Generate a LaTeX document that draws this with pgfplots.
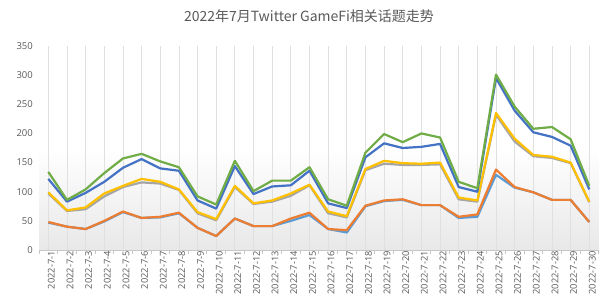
\documentclass[border=0pt]{standalone}
\usepackage{pgfplots}
\pgfplotsset{compat=1.18}
\usepackage{fontspec}
\setmainfont{Open Sans}
\newfontfamily\cjk{Noto Sans CJK SC}
\definecolor{cblue}{HTML}{4472C4}
\definecolor{corange}{HTML}{ED7D31}
\definecolor{cgray}{HTML}{A5A5A5}
\definecolor{cyellow}{HTML}{FFC000}
\definecolor{clblue}{HTML}{5B9BD5}
\definecolor{cgreen}{HTML}{70AD47}
\definecolor{txt}{HTML}{595959}
\pgfplotstableread{
x green blue gray yellow orange lblue
0 134 122 97 99 48 47
1 86 83 67 68 40 40
2 104 98 70 73 36 36
3 132 117 92 97 50 49
4 157 141 108 110 66 65
5 165 156 116 122 55 55
6 152 140 114 117 57 56
7 142 136 103 104 64 63
8 92 85 63 65 38 38
9 78 71 51 53 24 24
10 153 144 108 110 54 54
11 101 96 79 80 41 41
12 119 109 83 85 41 41
13 119 111 93 97 54 50
14 142 136 111 112 64 60
15 87 80 63 66 36 36
16 76 72 56 58 34 30
17 167 159 137 139 76 75
18 199 183 148 153 85 84
19 185 175 146 149 87 86
20 200 177 146 148 77 77
21 193 182 147 150 77 77
22 117 108 87 90 57 55
23 106 100 83 85 61 57
24 301 295 232 235 138 129
25 246 239 186 191 108 107
26 208 202 161 163 99 99
27 211 194 158 160 86 86
28 190 179 149 150 86 86
29 110 104 82 83 48 48
}\data
\begin{document}
\begin{tikzpicture}
\path[use as bounding box] (0,0) rectangle (614pt,293pt);
\clip (0,0) rectangle (614pt,293pt);
\node[text=txt, font=\cjk\fontsize{14}{16}\selectfont] at (309pt,277pt) {2022年7月Twitter GameFi相关话题走势};
\begin{axis}[
  at={(39pt,43pt)}, anchor=south west,
  scale only axis, width=559.6pt, height=204pt,
  xmin=-0.5, xmax=29.5, ymin=0, ymax=350,
  axis background/.style={top color=white, bottom color=black!9, middle color=white, shading angle=0},
  axis x line*=bottom, axis y line*=left,
  x axis line style={draw=black!22, line width=0.8pt},
  y axis line style={draw=none},
  xtick={0,...,29},
  xticklabels={2022-7-1,2022-7-2,2022-7-3,2022-7-4,2022-7-5,2022-7-6,2022-7-7,2022-7-8,2022-7-9,2022-7-10,2022-7-11,2022-7-12,2022-7-13,2022-7-14,2022-7-15,2022-7-16,2022-7-17,2022-7-18,2022-7-19,2022-7-20,2022-7-21,2022-7-22,2022-7-23,2022-7-24,2022-7-25,2022-7-26,2022-7-27,2022-7-28,2022-7-29,2022-7-30},
  minor xtick={-0.5,0.5,...,29.5},
  major tick length=0pt, minor tick length=4pt, tick align=outside,
  minor tick style={draw=black!22, line width=0.8pt},
  xmajorgrids, major x grid style={draw=black!12, line width=0.8pt},
  xticklabel style={rotate=90, anchor=east, font=\fontsize{9.3}{11}\selectfont, text=txt, inner sep=1pt, yshift=-3pt},
  ytick={0,50,...,350},
  yticklabel style={font=\fontsize{9.5}{11}\selectfont, text=txt, inner sep=1pt, xshift=-5pt},
  /pgf/number format/assume math mode=true,
  clip=false,
  every axis plot/.append style={line width=2.2pt, no markers, line join=round},
]
\addplot[clblue] table[x=x,y=lblue] {\data};
\addplot[cgray] table[x=x,y=gray] {\data};
\addplot[corange] table[x=x,y=orange] {\data};
\addplot[cyellow] table[x=x,y=yellow] {\data};
\addplot[cblue] table[x=x,y=blue] {\data};
\addplot[cgreen] table[x=x,y=green] {\data};
\end{axis}
\end{tikzpicture}
\end{document}
